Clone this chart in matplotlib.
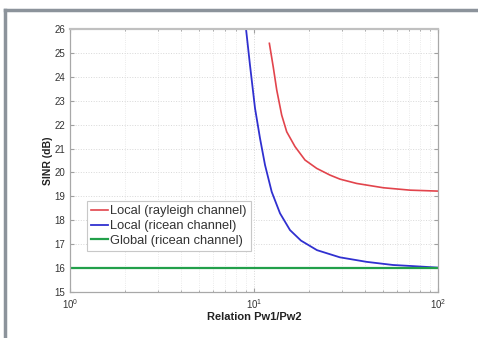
import numpy as np
import matplotlib
matplotlib.use('Agg')
import matplotlib.pyplot as plt
from matplotlib.lines import Line2D

# Values
rayleigh_x = [12.12, 12.73, 13.29, 14.14, 15.06, 16.71, 18.93, 21.92, 25.88, 29.34, 36.15, 50.44, 70.43, 100.0]
rayleigh_y = [25.40, 24.40, 23.45, 22.40, 21.70, 21.08, 20.52, 20.17, 19.89, 19.72, 19.54, 19.36, 19.26, 19.22]

ricean_x = [9.05, 9.51, 10.13, 10.78, 11.48, 12.48, 13.85, 15.69, 18.0, 22.0, 29.3, 41.0, 56.9, 70.4, 100.0]
ricean_y = [26.0, 24.49, 22.68, 21.43, 20.31, 19.19, 18.29, 17.59, 17.15, 16.75, 16.45, 16.26, 16.13, 16.09, 16.02]

global_x = [1.0, 100.0]
global_y = [16.0, 16.0]

legend_labels = ['Local (rayleigh channel)', 'Local (ricean channel)', 'Global (ricean channel)']
y_ticks = list(range(15, 27))

plt.rcParams['font.family'] = ['Liberation Sans', 'DejaVu Sans']

fig = plt.figure(figsize=(4.78, 3.38), dpi=100)
fig.patch.set_facecolor('white')

# grey frame at the top and left of the picture
fig.add_artist(Line2D([5 / 478, 5 / 478], [0, 1 - 10 / 338], color='#8c939b', lw=2.5, transform=fig.transFigure))
fig.add_artist(Line2D([5 / 478, 1], [1 - 10 / 338, 1 - 10 / 338], color='#8c939b', lw=2.5, transform=fig.transFigure))

ax = fig.add_axes([70 / 478, 46 / 338, 368 / 478, 263 / 338])

ax.plot(rayleigh_x, rayleigh_y, color='#e2444c', lw=1.2)
ax.plot(ricean_x, ricean_y, color='#3030d0', lw=1.3)
ax.plot(global_x, global_y, color='#22a04a', lw=1.6)

ax.set_xscale('log')
ax.set_xlim(1, 100)
ax.set_ylim(15, 26)
ax.set_yticks(y_ticks)

ax.grid(True, which='major', color='#d8d8d8', linestyle=':', lw=0.7)
ax.grid(True, which='minor', axis='x', color='#e4e4e4', linestyle=':', lw=0.6)

for s in ax.spines.values():
    s.set_color('#a8a8a8')
    s.set_linewidth(0.9)
ax.spines['top'].set_linewidth(1.6)
ax.spines['top'].set_color('#c0c0c0')
ax.tick_params(which='both', direction='in', top=True, right=True, colors='#a0a0a0',
               labelcolor='#333333', labelsize=7, length=3)
ax.tick_params(which='minor', length=1.5)

ax.set_xlabel('Relation Pw1/Pw2', fontsize=8, fontweight='bold', color='#222222', labelpad=1)
ax.set_ylabel('SINR (dB)', fontsize=7.5, fontweight='bold', color='#222222', labelpad=1)

leg = ax.legend(legend_labels, loc='lower left', bbox_to_anchor=(0.045, 0.155), fontsize=9.3,
                handlelength=1.3, handletextpad=0.2, borderpad=0.35, labelspacing=0.2,
                borderaxespad=0, fancybox=False, framealpha=1, edgecolor='#c8c8c8')
leg.get_frame().set_linewidth(0.8)
for t in leg.get_texts():
    t.set_color('#333333')

fig.savefig('out.png', dpi=100, facecolor='white')
